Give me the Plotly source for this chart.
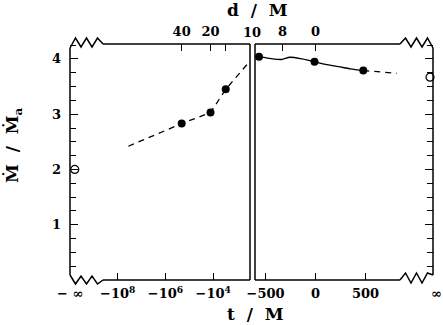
import numpy as np
import plotly.graph_objects as go

# ---- data ----
# left panel: t < 0 on a log scale (plotted as -log10(-t))
t_left_line = [-3.6e7, -2.1e5, -1.3e4, -3.0e3, -3.2e2]
mdot_left_line = [2.42, 2.83, 3.03, 3.45, 3.94]
t_left_dots = [-2.1e5, -1.3e4, -3.0e3]
mdot_left_dots = [2.83, 3.03, 3.45]
mdot_minus_inf = [2.0]

# right panel: linear t
t_right_solid = [-565, -425, -340, -255, -135, -10, 100, 230, 350, 478]
mdot_right_solid = [4.04, 4.00, 3.99, 4.03, 4.00, 3.95, 3.90, 3.86, 3.82, 3.79]
t_right_dash = [478, 812]
mdot_right_dash = [3.79, 3.74]
t_right_dots = [-565, -10, 478]
mdot_right_dots = [4.04, 3.95, 3.79]
mdot_plus_inf = [3.67]

# tick labels
left_bottom_vals = [-1e8, -1e6, -1e4]
left_bottom_text = ["−10<sup>8</sup>", "−10<sup>6</sup>", "−10<sup>4</sup>"]
left_top_vals = [-2.1e5, -1.3e4, -3.0e3]
left_top_text = ["40", "20", ""]
right_bottom_vals = [-500, 0, 500]
right_bottom_text = ["−500", "0", "500"]
right_top_vals = [-330, 0]
right_top_text = ["8", "0"]
y_ticks = [1, 2, 3, 4]

# ---- layout geometry ----
W, H = 443, 325
L, R, T, B = 70, 10, 44, 45
PW, PH = W - L - R, H - T - B
X_SPLIT_L, X_SPLIT_R = 250, 255          # pixel edges of the two panels
U_RANGE = [-10.0, -2.46]                 # left panel, -log10(-t)
T_RANGE = [-605, 1175]                   # right panel, t
Y_RANGE = [0, 4.27]
U_NEG_INF = -9.8                         # where "-inf" sits on the left axis
T_POS_INF = 1145                         # where "+inf" sits on the right axis

FONT = "DejaVu Serif"
BLACK = "black"


def lg(t):
    return -np.log10(-np.asarray(t, dtype=float))


def px(x, y):
    return (x - L) / PW, (H - B - y) / PH


def seg(x0, y0, x1, y1):
    a, b = px(x0, y0)
    c, d = px(x1, y1)
    return dict(type="line", xref="paper", yref="paper", x0=a, y0=b, x1=c, y1=d,
                line=dict(color=BLACK, width=1.5))


def zigzag(pts):
    p = [px(x, y) for x, y in pts]
    path = "M " + " L ".join(f"{a:.5f},{b:.5f}" for a, b in p)
    return dict(type="path", xref="paper", yref="paper", path=path,
                line=dict(color=BLACK, width=1.5))


def teeth(x0, x1, y_start, y_end, y_a, y_b):
    xs = np.linspace(x0, x1, 7)
    ys = [y_start, y_a, y_b, y_a, y_b, y_a, y_end]
    return list(zip(xs, ys))


fig = go.Figure()

dash = dict(color=BLACK, width=1.3, dash="6px,5px")
dot = dict(color=BLACK, size=8)
ring = dict(color="white", size=8, line=dict(color=BLACK, width=1.2), symbol="circle")

fig.add_trace(go.Scatter(x=lg(t_left_line), y=mdot_left_line, mode="lines",
                         line=dash, xaxis="x", yaxis="y", cliponaxis=False))
fig.add_trace(go.Scatter(x=lg(t_left_dots), y=mdot_left_dots, mode="markers",
                         marker=dot, xaxis="x", yaxis="y"))
fig.add_trace(go.Scatter(x=[U_NEG_INF], y=mdot_minus_inf, mode="markers",
                         marker=ring, xaxis="x", yaxis="y", cliponaxis=False))

fig.add_trace(go.Scatter(x=t_right_solid, y=mdot_right_solid, mode="lines",
                         line=dict(color=BLACK, width=1.3, shape="spline", smoothing=0.8),
                         xaxis="x2", yaxis="y2"))
fig.add_trace(go.Scatter(x=t_right_dash, y=mdot_right_dash, mode="lines",
                         line=dash, xaxis="x2", yaxis="y2"))
fig.add_trace(go.Scatter(x=t_right_dots, y=mdot_right_dots, mode="markers",
                         marker=dot, xaxis="x2", yaxis="y2", cliponaxis=False))
fig.add_trace(go.Scatter(x=[T_POS_INF], y=mdot_plus_inf, mode="markers",
                         marker=ring, xaxis="x2", yaxis="y2", cliponaxis=False))

# dummy traces so the top axes get drawn
fig.add_trace(go.Scatter(x=[None], y=[None], xaxis="x3", yaxis="y", showlegend=False))
fig.add_trace(go.Scatter(x=[None], y=[None], xaxis="x4", yaxis="y2", showlegend=False))

tickfont = dict(family=FONT, size=13, color=BLACK, weight="bold")
dom_l = [0, (X_SPLIT_L - L) / PW]
dom_r = [(X_SPLIT_R - L) / PW, 1]

common_x = dict(showgrid=False, zeroline=False, showline=False, ticks="inside",
                ticklen=7, tickwidth=1.3, tickcolor=BLACK, tickfont=tickfont,
                tickmode="array", ticklabelstandoff=4, automargin=False)
common_y = dict(range=Y_RANGE, showgrid=False, zeroline=False, showline=False,
                ticks="inside", ticklen=8, tickwidth=1.3, tickcolor=BLACK,
                tickmode="array", tickvals=y_ticks, ticktext=[str(v) for v in y_ticks],
                minor=dict(dtick=0.25, tick0=0, ticks="inside", ticklen=6,
                           tickwidth=1.3, tickcolor=BLACK, showgrid=False),
                tickfont=tickfont, automargin=False)

fig.update_layout(
    width=W, height=H,
    margin=dict(l=L, r=R, t=T, b=B),
    paper_bgcolor="white", plot_bgcolor="white",
    showlegend=False,
    xaxis=dict(common_x, domain=dom_l, range=U_RANGE, anchor="y",
               tickvals=lg(left_bottom_vals), ticktext=left_bottom_text),
    xaxis3=dict(common_x, domain=dom_l, range=U_RANGE, anchor="y", overlaying="x",
                side="top", tickvals=lg(left_top_vals), ticktext=left_top_text),
    xaxis2=dict(common_x, domain=dom_r, range=T_RANGE, anchor="y2",
                tickvals=right_bottom_vals, ticktext=right_bottom_text),
    xaxis4=dict(common_x, domain=dom_r, range=T_RANGE, anchor="y2", overlaying="x2",
                side="top", tickvals=right_top_vals, ticktext=right_top_text),
    yaxis=dict(common_y, domain=[0, 1], anchor="x", ticklabelstandoff=8),
    yaxis2=dict(common_y, domain=[0, 1], anchor="x2", side="right",
                showticklabels=False),
)

top, bot = T, H - B
shapes = [
    # left panel frame
    seg(L, top + 4, L, bot - 5),
    seg(103, top, X_SPLIT_L, top),
    seg(103, bot, X_SPLIT_L, bot),
    seg(X_SPLIT_L, top, X_SPLIT_L, bot),
    # right panel frame
    seg(X_SPLIT_R, top, X_SPLIT_R, bot),
    seg(X_SPLIT_R, top, 400, top),
    seg(X_SPLIT_R, bot, 400, bot),
    seg(W - R, top + 4, W - R, bot - 5),
    # axis breaks
    zigzag(teeth(L, 103, top + 4, top, top - 6, top + 3)),
    zigzag(teeth(L, 103, bot - 5, bot, bot + 4, bot - 4)),
    zigzag(teeth(400, W - R, top, top + 4, top - 6, top + 3)),
    zigzag(teeth(400, W - R, bot, bot - 5, bot - 7, bot + 3)),
]
fig.update_layout(shapes=shapes)


def label(x, y, text, size=13, angle=0):
    a, b = px(x, y)
    fig.add_annotation(x=a, y=b, xref="paper", yref="paper", text=text,
                       showarrow=False, textangle=angle,
                       font=dict(family=FONT, size=size, color=BLACK, weight="bold"),
                       xanchor="center", yanchor="middle")


label(70, 293, "− ∞")
label(436, 293, "∞")
label(252, 33, "10")
label(257, 10, "d  /  M", size=17)
label(256, 314, "t  /  M", size=17)
label(13, 145, "Ṁ  /  Ṁ<sub>a</sub>", size=17, angle=-90)

fig.write_html("out.html",
               config={"displayModeBar": False},
               post_script="document.body.style.margin='0';"
                           "document.body.style.overflow='hidden';")
